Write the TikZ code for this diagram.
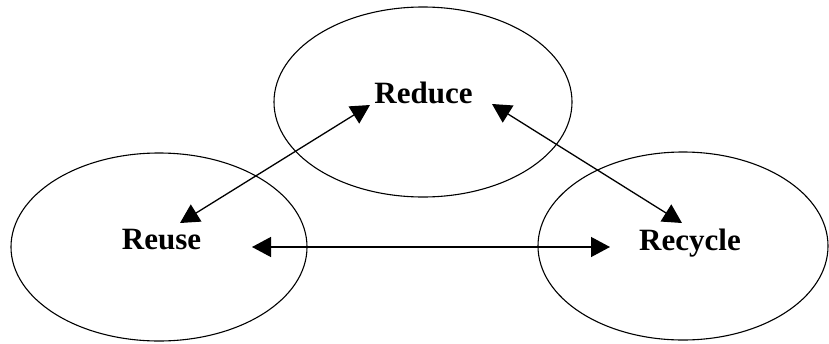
\documentclass[tikz,border=0pt]{standalone}
\usepackage{fontspec}
\setmainfont{Liberation Serif}
\usetikzlibrary{shapes.geometric,arrows.meta}
\begin{document}
\begin{tikzpicture}[x=1pt,y=-1pt,
  blob/.style={ellipse,draw=black,line width=1.1pt,inner sep=0pt,minimum width=296pt,minimum height=188pt},
  lbl/.style={anchor=base,inner sep=0pt,font=\fontsize{31}{31}\selectfont\bfseries},
  link/.style={line width=1.3pt,{Triangle[length=19pt,width=20pt]}-{Triangle[length=19pt,width=20pt]}}]
\useasboundingbox (0,0) rectangle (829,343);
\node[blob,minimum width=298pt,minimum height=190pt] (ered) at (423,102) {};
\node[blob] (ereu) at (159,247) {};
\node[blob,minimum width=290pt] (erec) at (683,246) {};
\node[lbl] (reduce) at (423.5,103) {Reduce};
\node[lbl] (reuse) at (161.5,249) {Reuse};
\node[lbl] (recycle) at (690,250) {Recycle};
\coordinate (p1) at (370,105);
\coordinate (p2) at (180,223);
\coordinate (p3) at (492,104);
\coordinate (p4) at (682,223);
\coordinate (p5) at (252,247);
\coordinate (p6) at (610,247);
\draw[link] (p1) -- (p2);
\draw[link] (p3) -- (p4);
\draw[link] (p5) -- (p6);
\end{tikzpicture}
\end{document}
